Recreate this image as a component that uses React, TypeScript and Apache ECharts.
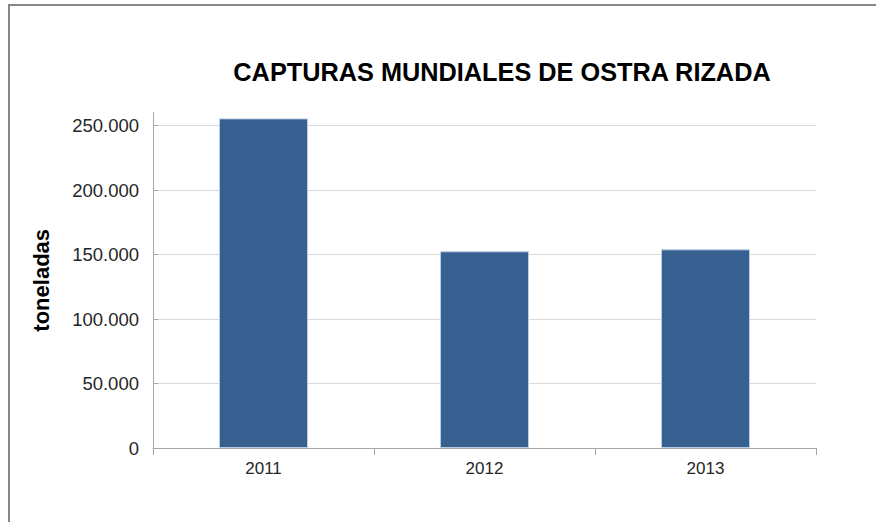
import React, { useEffect, useRef } from "react";
import * as echarts from "echarts";

const categories = ["2011", "2012", "2013"];
const capturas = [255500, 152500, 154000];
const yTicks = [0, 50000, 100000, 150000, 200000, 250000];
const titleText = "CAPTURAS MUNDIALES DE OSTRA RIZADA";
const yName = "toneladas";

const fmt = (v: number) => String(v).replace(/\B(?=(\d{3})+(?!\d))/g, ".");

export default function App() {
  const ref = useRef<HTMLDivElement>(null);
  useEffect(() => {
    if (!ref.current) return;
    const chart = echarts.init(ref.current, null, { renderer: "svg" });
    chart.setOption({
      animation: false,
      backgroundColor: "#ffffff",
      textStyle: { fontFamily: "Liberation Sans, Arial, sans-serif" },
      title: {
        text: titleText,
        left: 497,
        top: 54,
        textAlign: "center",
        textStyle: { fontSize: 25.3, fontWeight: "bold", color: "#000000", fontFamily: "Liberation Sans, Arial, sans-serif" },
      },
      graphic: [
        {
          type: "rect",
          shape: { x: 9, y: 5, width: 1000, height: 700 },
          style: { fill: "none", stroke: "#878787", lineWidth: 2 },
          silent: true,
        },
      ],
      grid: { left: 153, right: 60, top: 112.6, bottom: 74 },
      xAxis: {
        type: "category",
        data: categories,
        axisLine: { lineStyle: { color: "#a6a6a6", width: 1 } },
        axisTick: { show: true, length: 7, lineStyle: { color: "#a6a6a6" } },
        axisLabel: { margin: 12, fontSize: 17, color: "#262626", fontFamily: "Liberation Sans, Arial, sans-serif" },
      },
      yAxis: {
        type: "value",
        min: 0,
        max: 260000,
        interval: 50000,
        name: yName,
        nameLocation: "middle",
        nameRotate: 90,
        nameGap: 101,
        nameTextStyle: { fontSize: 22, fontWeight: "bold", color: "#000000", fontFamily: "Liberation Sans, Arial, sans-serif" },
        axisLine: { show: true, lineStyle: { color: "#a6a6a6", width: 1 } },
        axisTick: { show: true, inside: true, length: 5, customValues: yTicks, lineStyle: { color: "#a6a6a6" } },
        axisLabel: {
          margin: 14,
          fontSize: 18.5,
          color: "#262626",
          customValues: yTicks,
          fontFamily: "Liberation Sans, Arial, sans-serif",
          formatter: (v: number) => fmt(v),
        },
        splitLine: { show: true, lineStyle: { color: "#d9d9d9", width: 1 } },
      },
      series: [
        {
          type: "bar",
          data: capturas,
          barWidth: 89,
          itemStyle: { color: "#36608f", borderColor: "#b9cde5", borderWidth: 1 },
        },
      ],
    });
    return () => chart.dispose();
  }, []);
  return (
    <div
      ref={ref}
      style={{ position: "fixed", left: 0, top: 0, width: 876, height: 522 }}
    />
  );
}
